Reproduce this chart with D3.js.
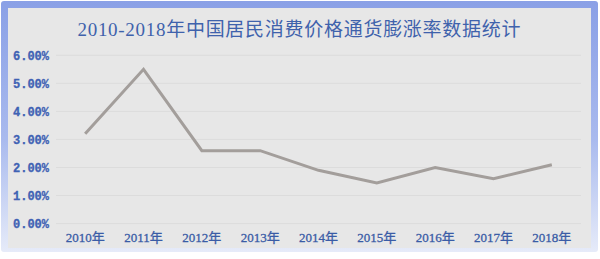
<!DOCTYPE html>
<html><head><meta charset="utf-8">
<script src="https://cdn.jsdelivr.net/npm/d3@7"></script>
<style>html,body{margin:0;padding:0;background:#fff;}svg{display:block;}</style>
</head><body>
<svg id="c" width="600" height="259"></svg>
<script>
const title = "2010-2018年中国居民消费价格通货膨涨率数据统计";
const years = ["2010年","2011年","2012年","2013年","2014年","2015年","2016年","2017年","2018年"];
const cpi = [3.2, 5.5, 2.6, 2.6, 1.9, 1.45, 2.0, 1.6, 2.1];
const yTicks = [0, 1, 2, 3, 4, 5, 6];

const svg = d3.select("#c");
const defs = svg.append("defs");
const g1 = defs.append("linearGradient").attr("id","frameGrad").attr("x1",0).attr("y1",0).attr("x2",0).attr("y2",1);
g1.append("stop").attr("offset","0%").attr("stop-color","#8aa0e6");
g1.append("stop").attr("offset","55%").attr("stop-color","#a9baee");
g1.append("stop").attr("offset","100%").attr("stop-color","#e6ebf9");

// frame
svg.append("rect").attr("x",1).attr("y",1).attr("width",597).attr("height",251)
  .attr("rx",3).attr("fill","url(#frameGrad)");
svg.append("rect").attr("x",8).attr("y",8).attr("width",583).attr("height",240)
  .attr("fill","#e7e7e7");

const x = d3.scaleBand().domain(years).range([56, 581]);
const y = d3.scaleLinear().domain([0, 6]).range([223.6, 55.3]);

// gridlines
svg.append("g").selectAll("line").data(yTicks).join("line")
  .attr("x1",56).attr("x2",581)
  .attr("y1",d=>y(d)).attr("y2",d=>y(d))
  .attr("stroke","#dcdcdc").attr("stroke-width",1);

// y labels
svg.append("g").selectAll("text").data(yTicks).join("text")
  .attr("x",49).attr("y",d=>y(d)).attr("dy","0.35em")
  .attr("text-anchor","end")
  .attr("font-family","'Liberation Mono', monospace").attr("font-weight","bold")
  .attr("font-size",12).attr("fill","#3f62b4")
  .attr("stroke","#3f62b4").attr("stroke-width",0.3)
  .text(d=>d3.format(".2f")(d)+"%");

// x labels
svg.append("g").selectAll("text").data(years).join("text")
  .attr("x",d=>x(d)+x.bandwidth()/2).attr("y",242)
  .attr("text-anchor","middle")
  .attr("font-family","'Liberation Serif','Noto Sans CJK SC',serif")
  .attr("font-size",13).attr("fill","#3a5ca6")
  .attr("stroke","#3a5ca6").attr("stroke-width",0.3)
  .text(d=>d);

// line
const line = d3.line().x((d,i)=>x(years[i])+x.bandwidth()/2).y(d=>y(d));
svg.append("path").datum(cpi).attr("d",line)
  .attr("fill","none").attr("stroke","#a39e9b").attr("stroke-width",3)
  .attr("stroke-linejoin","miter").attr("stroke-linecap","butt");

// title
svg.append("text").attr("x",299).attr("y",36).attr("text-anchor","middle")
  .attr("font-family","'Liberation Serif','Noto Sans CJK SC',serif")
  .attr("font-size",19).attr("fill","#3f62ac")
  .attr("textLength",443).attr("lengthAdjust","spacing")
  .text(title);
</script>
</body></html>
